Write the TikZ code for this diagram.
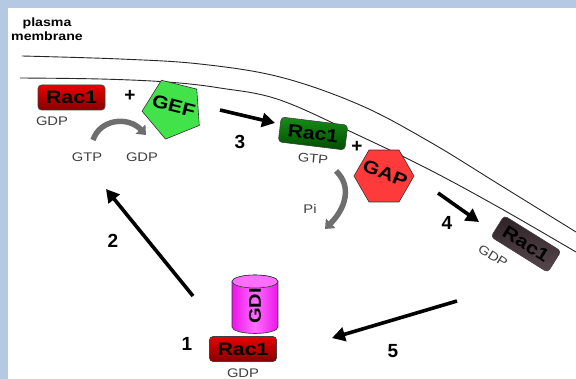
\documentclass[tikz,border=0pt]{standalone}
\usepackage{fontspec}
\usepackage{graphicx}
\setmainfont{Liberation Sans}
\usetikzlibrary{arrows.meta,shapes.geometric}

% slightly widened lettering
\newcommand\widetxt[1]{\scalebox{1.18}[1]{#1}}
% text that does not enlarge its shape
\newcommand\flattxt[1]{\smash{\makebox[0pt]{\widetxt{#1}}}}

\definecolor{frameblue}{RGB}{182,201,226}
\definecolor{racred}{RGB}{232,0,0}
\definecolor{racreddark}{RGB}{135,0,0}
\definecolor{racgreen}{RGB}{24,140,24}
\definecolor{racgreendark}{RGB}{0,78,0}
\definecolor{racdark}{RGB}{46,34,38}
\definecolor{racdarklight}{RGB}{88,72,77}
\definecolor{geffill}{RGB}{66,226,74}
\definecolor{gapfill}{RGB}{255,58,58}
\definecolor{gdifill}{RGB}{235,20,235}
\definecolor{gdilight}{RGB}{255,110,255}
\definecolor{swapgray}{RGB}{110,110,110}

\tikzset{
  racbox/.style={draw=black!75, rounded corners=3.5pt, minimum width=67pt,
    minimum height=25pt, inner sep=0pt, line width=0.6pt,
    font=\bfseries\fontsize{18}{18}\selectfont},
  racgdp/.style={racbox, top color=racred, bottom color=racreddark},
  racgtp/.style={racbox, top color=racgreen, bottom color=racgreendark},
  racoff/.style={racbox, top color=racdark, bottom color=racdarklight},
  small/.style={font=\fontsize{12.5}{12.5}\selectfont, inner sep=0pt, text=black!75},
  stepnum/.style={font=\bfseries\fontsize{19}{19}\selectfont, inner sep=0pt},
  plussign/.style={font=\bfseries\fontsize{19}{19}\selectfont, inner sep=0pt},
  bigarrow/.style={line width=3.6pt, -{Triangle[length=13pt,width=14pt]}},
  swaparrow/.style={draw=swapgray, line width=5.5pt,
    -{Triangle[length=8pt,width=13pt]}},
  membrane/.style={line width=0.9pt, black!85},
  protein/.style={draw=black!80, line width=0.6pt, inner sep=0pt, outer sep=0pt,
    font=\bfseries\fontsize{18}{18}\selectfont},
}

\begin{document}
\begin{tikzpicture}[x=1pt,y=-1pt]
  % frame and page
  \useasboundingbox (0,0) rectangle (576,379);
  \fill[frameblue] (0,0) rectangle (576,379);
  \fill[white] (8,8.5) rectangle (576,379);

  % plasma membrane (two curved lines)
  \draw[membrane] plot[smooth,tension=0.6] coordinates
    {(22,56) (120,59) (200,64) (280,77) (360,105) (430,142) (500,185) (576,232)};
  \draw[membrane] plot[smooth,tension=0.6] coordinates
    {(20,78) (100,79) (167,82) (220,88) (280,100) (360,136) (430,170) (500,208) (576,252)};
  \node[font=\bfseries\fontsize{12}{13.5}\selectfont, align=center, inner sep=0pt]
    (pmlabel) at (47,29) {\widetxt{plasma}\\\widetxt{membrane}};

  % Rac1-GDP at the membrane with GEF
  \node[racgdp] (racA) at (71.5,97.5) {\widetxt{Rac1}};
  \node[small] (gdpA) at (52,121) {\widetxt{GDP}};
  \node[plussign] (plusA) at (130,96) {+};
  \node[protein, regular polygon, regular polygon sides=5, minimum size=62pt,
    fill=geffill, shape border rotate=180, rotate=-14] (gef) at (173,109)
    {\raisebox{-0.35em}{\flattxt{GEF}}};
  \node[small] (gtpB) at (87,157) {\widetxt{GTP}};
  \node[small] (gdpB) at (142,157) {\widetxt{GDP}};
  \coordinate (swapS) at (93,140);
  \coordinate (swapE) at (146,135);
  \draw[swaparrow] (swapS) .. controls (100,119) and (128,116) .. (swapE);

  % step 3: activation
  \coordinate (a3s) at (220,110);
  \coordinate (a3e) at (275,123);
  \draw[bigarrow] (a3s) -- (a3e);
  \node[stepnum] (n3) at (240,142) {3};

  % Rac1-GTP with GAP
  \node[racgtp, rotate=-7] (racB) at (313,133.5) {\widetxt{Rac1}};
  \node[small, rotate=-5] (gtpC) at (313,159) {\widetxt{GTP}};
  \node[plussign] (plusB) at (357,147) {+};
  \node[protein, regular polygon, regular polygon sides=6, minimum size=60pt,
    fill=gapfill, shape border rotate=22, rotate=-22] (gap) at (384,176)
    {\raisebox{-0.35em}{\flattxt{GAP}}};
  \coordinate (piS) at (336,171);
  \coordinate (piE) at (325,229);
  \draw[swaparrow] (piS) .. controls (352,186) and (346,208) .. (piE);
  \node[small] (pi) at (310,209) {\widetxt{Pi}};

  % step 4: inactivation
  \coordinate (a4s) at (438,193);
  \coordinate (a4e) at (479,222);
  \draw[bigarrow] (a4s) -- (a4e);
  \node[stepnum] (n4) at (447,223) {4};
  \node[racoff, rotate=-32] (racC) at (526,244) {\widetxt{Rac1}};
  \node[small, rotate=-32] (gdpC) at (493,256) {\widetxt{GDP}};

  % step 5: extraction by GDI
  \coordinate (a5s) at (457,301);
  \coordinate (a5e) at (332,338);
  \draw[bigarrow] (a5s) -- (a5e);
  \node[stepnum] (n5) at (393,351) {5};

  % GDI cylinder sitting on Rac1-GDP
  \shade[left color=gdifill, right color=gdifill, middle color=gdilight,
    draw=black!80, line width=0.6pt]
    (232,281.5) -- (232,327) arc[start angle=180, end angle=360, x radius=23pt, y radius=6.5pt]
    -- (278,281.5) arc[start angle=0, end angle=180, x radius=23pt, y radius=6.5pt] -- cycle;
  \draw[fill=gdilight, draw=black!80, line width=0.6pt]
    (255,281.5) ellipse[x radius=23pt, y radius=6.5pt];
  \node[font=\bfseries\fontsize{17}{17}\selectfont, rotate=90, inner sep=0pt] (gdi)
    at (255,306) {\widetxt{GDI}};
  \node[racgdp] (racD) at (243,349) {\widetxt{Rac1}};
  \node[small] (gdpD) at (243,373) {\widetxt{GDP}};
  \node[stepnum] (n1) at (187,344) {1};

  % step 2: return to the membrane
  \coordinate (a2s) at (193,296);
  \coordinate (a2e) at (106,189);
  \draw[bigarrow] (a2s) -- (a2e);
  \node[stepnum] (n2) at (113,241) {2};
\end{tikzpicture}
\end{document}
